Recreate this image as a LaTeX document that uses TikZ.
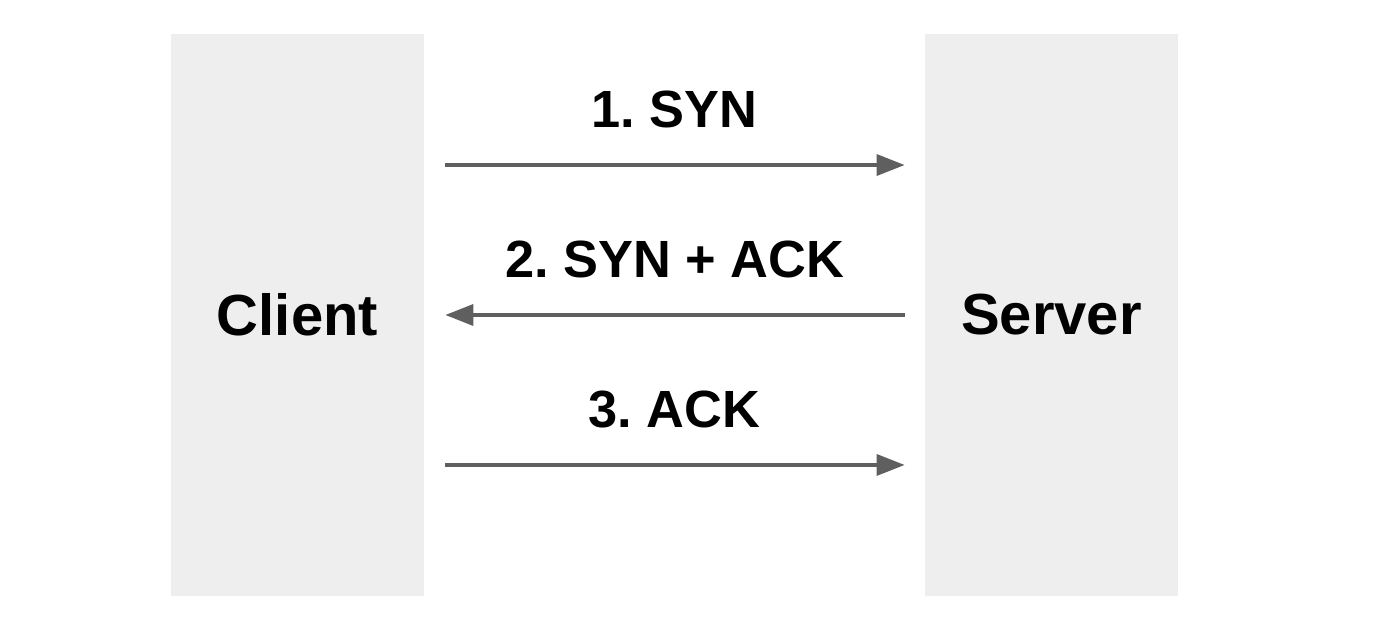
\documentclass[tikz,border=0pt]{standalone}
\usepackage{fontspec}
\setmainfont{Liberation Sans}
\usepackage{tikz}
\usetikzlibrary{arrows.meta,positioning}
\definecolor{HostGray}{HTML}{EEEEEE}
\definecolor{WireGray}{HTML}{5F5F5F}
\frenchspacing

\begin{document}
\begin{tikzpicture}[
  x=0.02cm,y=-0.02cm,
  host/.style={fill=HostGray,inner sep=0,minimum width=5.06cm,minimum height=11.24cm,font=\fontsize{33}{40}\selectfont\bfseries},
  msg/.style={inner sep=0,text=black,font=\fontsize{29.8}{36}\selectfont\bfseries},
  arr/.style={-{Triangle[length=15.9pt,width=11.9pt]},line width=2pt,WireGray,shorten <=0.42cm,shorten >=0.4cm}
]
  \useasboundingbox (0,0) rectangle (1394,624);
  \node[host] (client) at (297.5,315) {Client};
  \node[host] (server) at (1051.5,315) {Server};
  % handshake messages
  \draw[arr] ([yshift=3cm]client.east) -- ([yshift=3cm]server.west)
    node[msg,midway,above=0.7cm] {1. SYN};
  \draw[arr,shorten <=0.4cm,shorten >=0.42cm] (server.west) -- (client.east)
    node[msg,midway,above=0.7cm] {2. SYN + ACK};
  \draw[arr] ([yshift=-3cm]client.east) -- ([yshift=-3cm]server.west)
    node[msg,midway,above=0.7cm] {3. ACK};
\end{tikzpicture}
\end{document}
